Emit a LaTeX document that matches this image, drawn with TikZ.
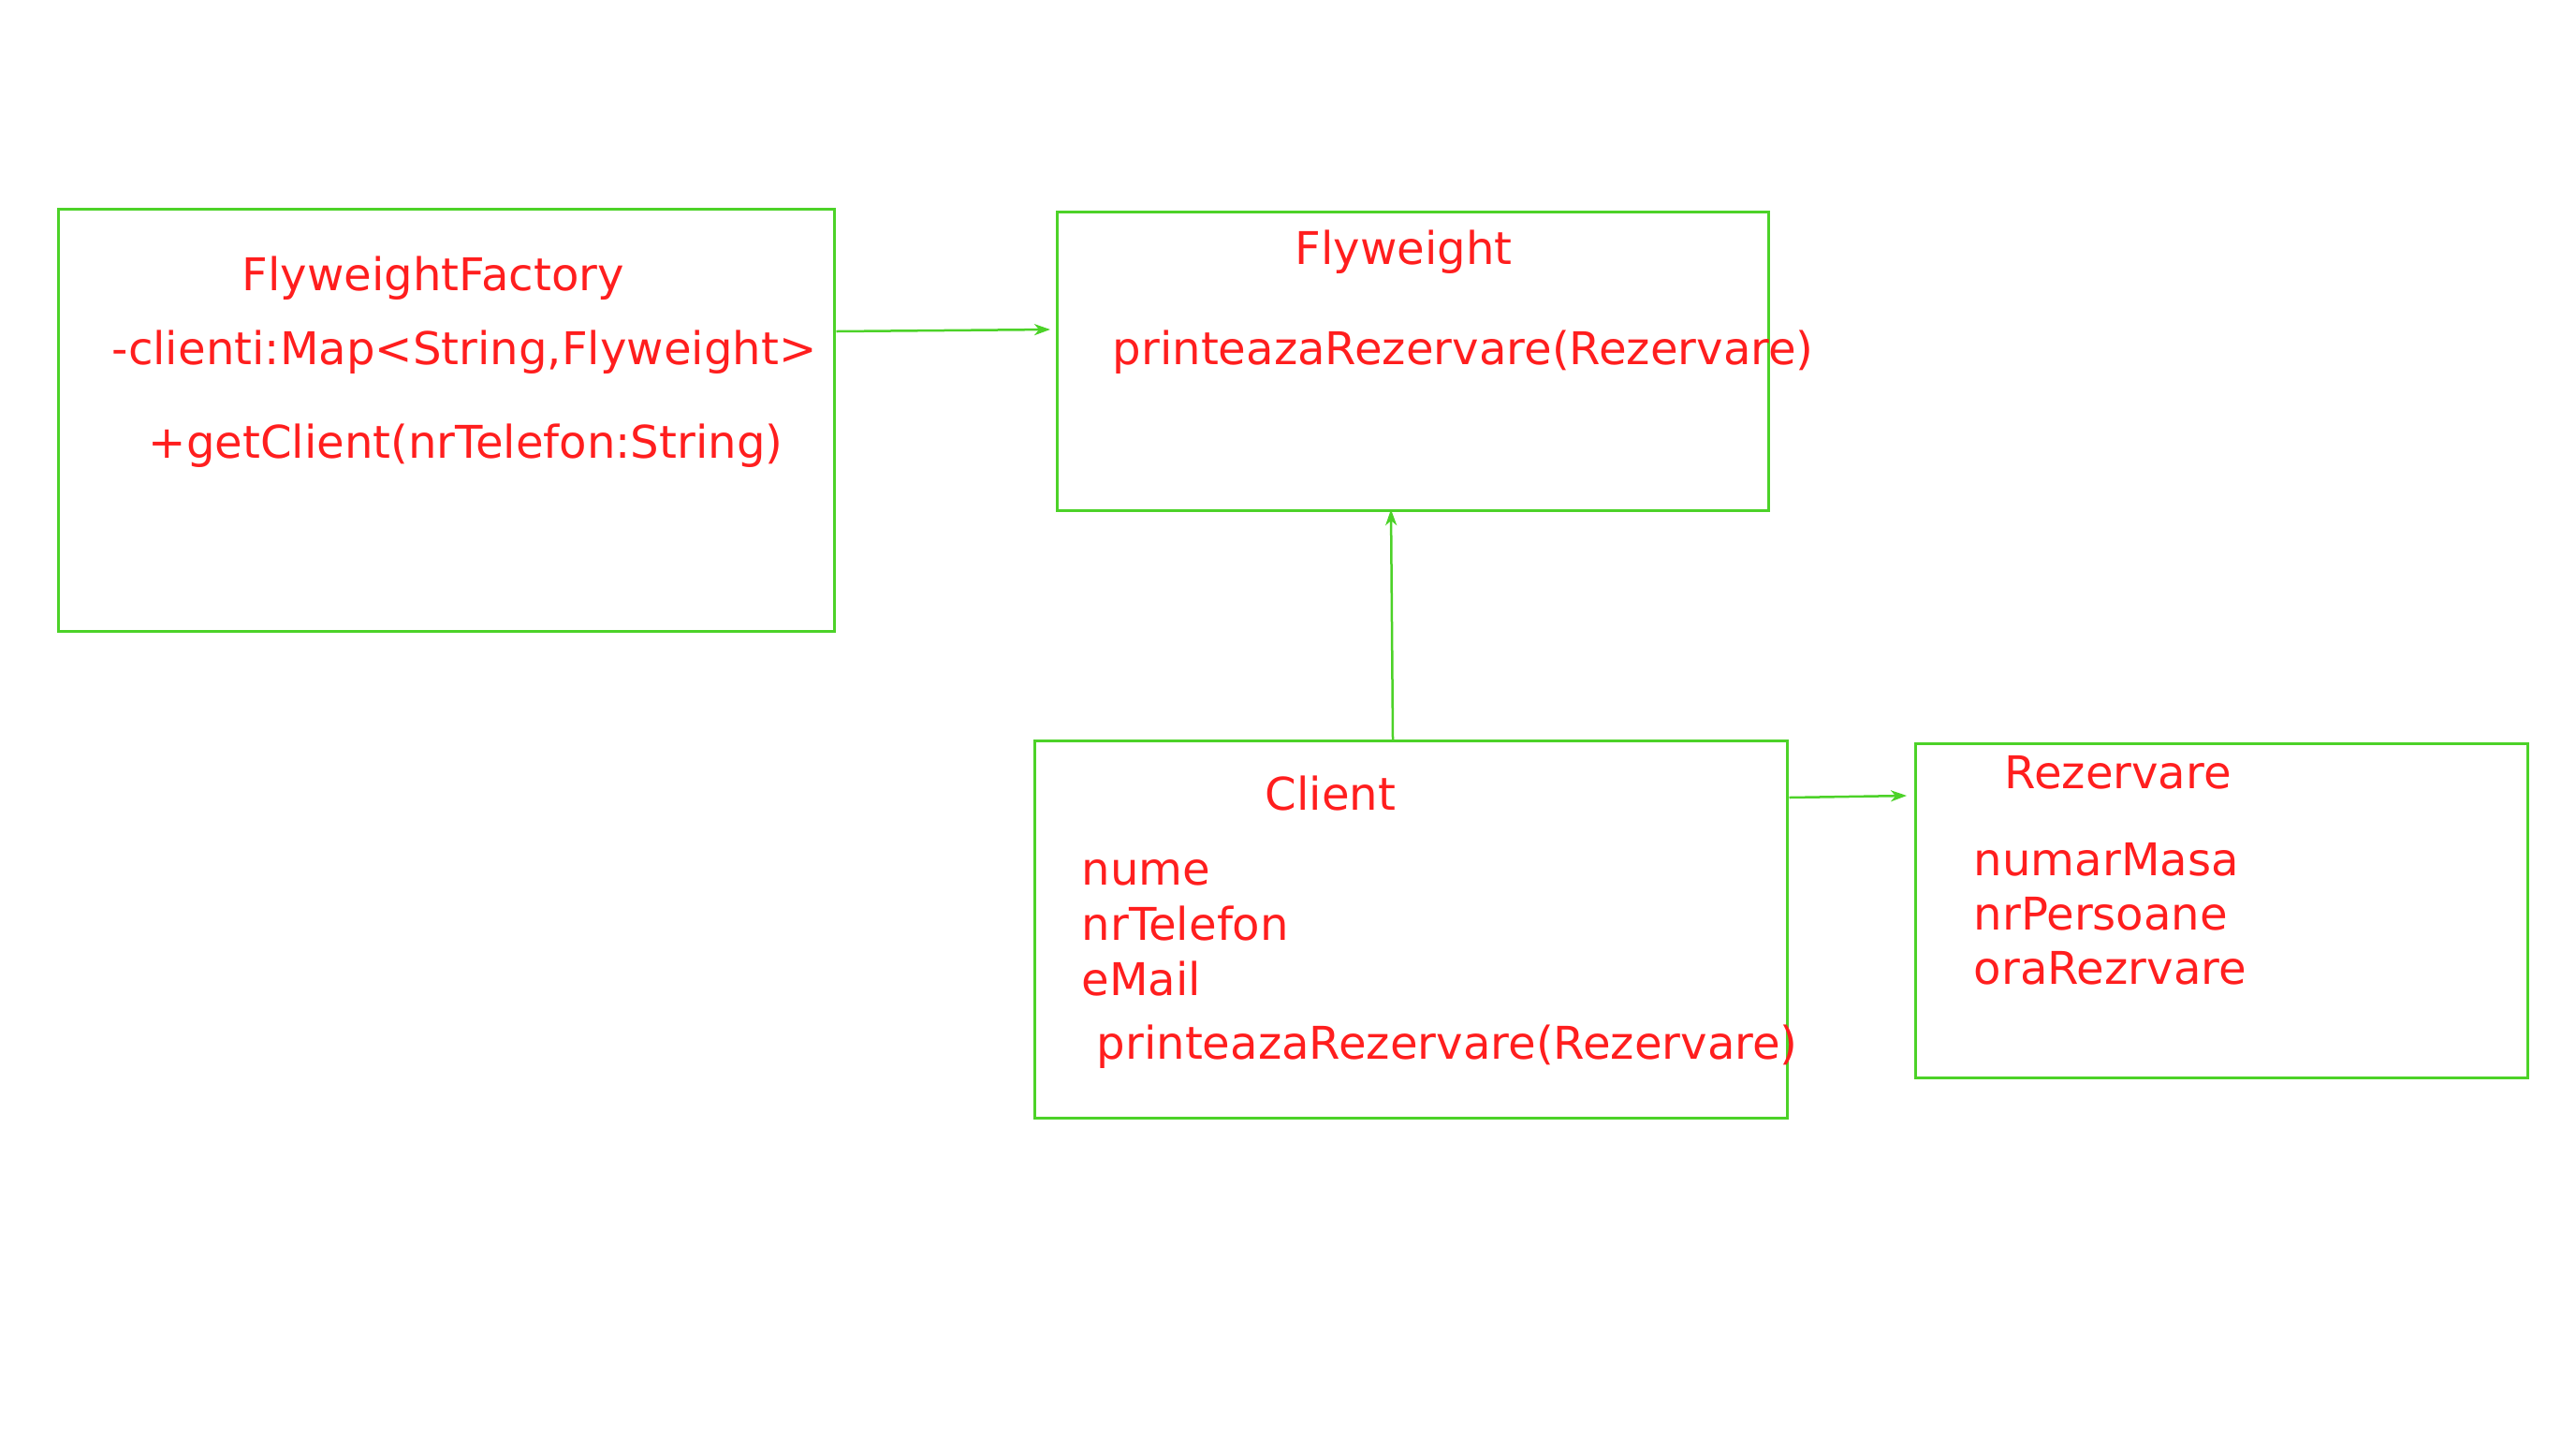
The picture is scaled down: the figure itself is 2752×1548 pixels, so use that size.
\documentclass[tikz,border=0pt]{standalone}
\usepackage{fontspec}
\setmainfont{DejaVu Sans}
\usetikzlibrary{arrows.meta,calc}
\definecolor{umlgreen}{RGB}{76,210,40}
\definecolor{umlred}{RGB}{255,30,30}

\begin{document}
\begin{tikzpicture}[x=0.01cm, y=-0.01cm,
   classbox/.style={draw=umlgreen, line width=0.03cm, rectangle, anchor=north west, inner sep=0pt},
   member/.style={text=umlred, anchor=base west, inner sep=0pt, font=\fontsize{13.7pt}{16pt}\selectfont},
   assoc/.style={draw=umlgreen, line width=0.025cm, -{Stealth[length=0.17cm, width=0.12cm, inset=0.05cm]}}]

\useasboundingbox (0,0) rectangle (2752,1548);

% class boxes
\node[classbox, minimum width=8.29cm, minimum height=4.51cm] (factory) at (61,222) {};
\node[classbox, minimum width=7.60cm, minimum height=3.19cm] (flyweight) at (1128,225) {};
\node[classbox, minimum width=8.04cm, minimum height=4.03cm] (client) at (1104,790) {};
\node[classbox, minimum width=6.54cm, minimum height=3.57cm] (rezervare) at (2045,793) {};

% FlyweightFactory
\node[member] (factoryName) at (258,310) {FlyweightFactory};
\node[member] (factoryMap) at (119,389) {-clienti:Map<String,Flyweight>};
\node[member] (factoryGet) at (158,489) {+getClient(nrTelefon:String)};

% Flyweight
\node[member] (flyName) at (1383,282) {Flyweight};
\node[member] (flyPrint) at (1188,389) {printeazaRezervare(Rezervare)};

% Client
\node[member] (clientName) at (1351,865) {Client};
\node[member] (clientNume) at (1155,945) {nume};
\node[member] (clientTel) at (1155,1004) {nrTelefon};
\node[member] (clientMail) at (1155,1063) {eMail};
\node[member] (clientPrint) at (1171,1131) {printeazaRezervare(Rezervare)};

% Rezervare
\node[member] (rezName) at (2141,842) {Rezervare};
\node[member] (rezMasa) at (2108,935) {numarMasa};
\node[member] (rezPers) at (2108,993) {nrPersoane};
\node[member] (rezOra) at (2108,1051) {oraRezrvare};

% connectors
\draw[assoc] ($(factory.north east)+(0,132)$) -- ($(flyweight.north west)+(-6,127)$);
\draw[assoc] ($(client.north west)+(384,0)$) -- ($(flyweight.south west)+(358,-3)$);
\draw[assoc] ($(client.north east)+(0,62)$) -- ($(rezervare.north west)+(-8,57)$);

\end{tikzpicture}
\end{document}
